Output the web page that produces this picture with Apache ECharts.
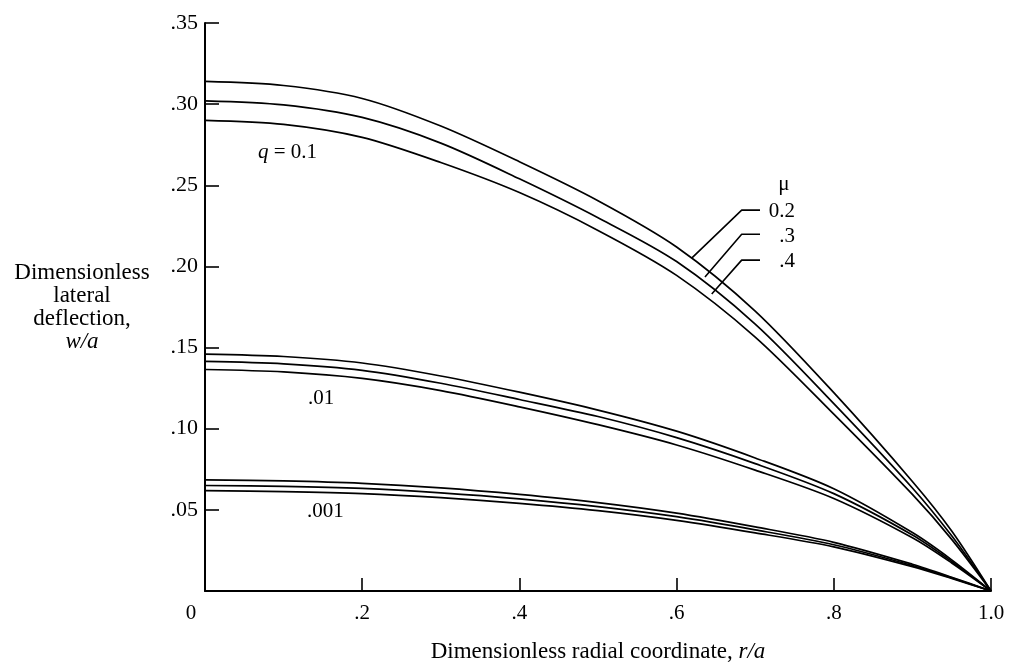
<!DOCTYPE html>
<html>
<head>
<meta charset="utf-8">
<script src="https://cdn.jsdelivr.net/npm/echarts@6/dist/echarts.min.js"></script>
<style>
html,body{margin:0;padding:0;background:#fff;}
#c{width:1013px;height:669px;}
</style>
</head>
<body>
<div id="c"></div>
<script>
// radial coordinate r/a
const xs = [0, 0.1, 0.2, 0.3, 0.4, 0.5, 0.6, 0.7, 0.8, 0.9, 0.95, 1.0];
// q = 0.1
const q1_mu02 = [0.3140, 0.3115, 0.3035, 0.2865, 0.2645, 0.2405, 0.2120, 0.1725, 0.1222, 0.0675, 0.0370, 0];
const q1_mu03 = [0.3020, 0.2995, 0.2918, 0.2760, 0.2540, 0.2300, 0.2030, 0.1645, 0.1155, 0.0635, 0.0340, 0];
const q1_mu04 = [0.2900, 0.2875, 0.2795, 0.2640, 0.2455, 0.2222, 0.1945, 0.1565, 0.1090, 0.0595, 0.0318, 0];
// q = 0.01
const q2_mu02 = [0.1460, 0.1445, 0.1405, 0.1325, 0.1225, 0.1115, 0.0985, 0.0820, 0.0630, 0.0360, 0.0192, 0];
const q2_mu03 = [0.1415, 0.1400, 0.1360, 0.1280, 0.1180, 0.1075, 0.0945, 0.0785, 0.0600, 0.0345, 0.0182, 0];
const q2_mu04 = [0.1365, 0.1350, 0.1310, 0.1235, 0.1135, 0.1025, 0.0900, 0.0745, 0.0570, 0.0328, 0.0173, 0];
// q = 0.001
const q3_mu02 = [0.0685, 0.0678, 0.0663, 0.0635, 0.0595, 0.0545, 0.0480, 0.0395, 0.0300, 0.0165, 0.0085, 0];
const q3_mu03 = [0.0650, 0.0645, 0.0632, 0.0605, 0.0568, 0.0520, 0.0458, 0.0377, 0.0285, 0.0157, 0.0081, 0];
const q3_mu04 = [0.0618, 0.0612, 0.0600, 0.0575, 0.0540, 0.0495, 0.0435, 0.0358, 0.0272, 0.0150, 0.0077, 0];

// leader lines for the mu callout (data coordinates)
const leader02 = [[0.6192, 0.2051], [0.6828, 0.2347], [0.7061, 0.2347]];
const leader03 = [[0.6361, 0.1935], [0.6828, 0.2198], [0.7061, 0.2198]];
const leader04 = [[0.6447, 0.1830], [0.6828, 0.2039], [0.7061, 0.2039]];

// annotation texts and anchors (data coordinates)
const leftTexts = ['{i|q} = 0.1', '.01', '.001'];
const leftAnchors = [[0.0674, 0.2705], [0.131, 0.1189], [0.1298, 0.0487]];
const rightTexts = ['0.2', '.3', '.4'];
const rightAnchors = [[0.7506, 0.2341], [0.7506, 0.2187], [0.7506, 0.2033]];
const muText = 'μ';
const muAnchor = [0.7366, 0.2505];

const xTicks = {0: '0', 0.2: '.2', 0.4: '.4', 0.6: '.6', 0.8: '.8', 1: '1.0'};

const FONT = '"Liberation Serif", "Times New Roman", serif';
const zip = (a) => xs.map((x, i) => [x, a[i]]);

const curveSeries = [q1_mu02, q1_mu03, q1_mu04, q2_mu02, q2_mu03, q2_mu04, q3_mu02, q3_mu03, q3_mu04].map(arr => ({
  type: 'line', data: zip(arr), showSymbol: false, symbol: 'none', smooth: 0.3,
  lineStyle: {color: '#000', width: 1.7}, silent: true, z: 3
}));
const leaderSeries = [leader02, leader03, leader04].map(d => ({
  type: 'line', data: d, showSymbol: false, symbol: 'none', smooth: false,
  lineStyle: {color: '#000', width: 1.6}, silent: true, z: 3
}));
const richI = {i: {fontFamily: FONT, fontStyle: 'italic', fontSize: 21, color: '#000'}};
const baseText = {type: 'scatter', symbolSize: 0, silent: true, itemStyle: {opacity: 1, color: '#000'}, z: 4};
const textSeries = [
  Object.assign({}, baseText, {
   data: leftAnchors.map((p, i) => ({value: p, label: {formatter: leftTexts[i]}})),
   label: {show: true, position: 'right', distance: 0, fontFamily: FONT, fontSize: 21, color: '#000', opacity: 1, rich: richI}}),
  Object.assign({}, baseText, {
   data: rightAnchors.map((p, i) => ({value: p, label: {formatter: rightTexts[i]}})),
   label: {show: true, position: 'left', distance: 0, fontFamily: FONT, fontSize: 21, color: '#000', opacity: 1}}),
  Object.assign({}, baseText, {
   data: [{value: muAnchor, label: {formatter: muText}}],
   label: {show: true, position: 'inside', fontFamily: FONT, fontSize: 21, color: '#000', opacity: 1, textBorderWidth: 0}})
];

const chart = echarts.init(document.getElementById('c'), null, {renderer: 'canvas'});
chart.setOption({
  animation: false,
  backgroundColor: '#fff',
  grid: {left: 205, right: 22, top: 23, bottom: 78, containLabel: false},
  xAxis: {
    type: 'value', min: 0, max: 1, interval: 0.2,
    name: 'Dimensionless radial coordinate, {i|r/a}',
    nameLocation: 'middle', nameGap: 61,
    nameTextStyle: {fontFamily: FONT, fontSize: 23, color: '#000', verticalAlign: 'middle',
      rich: {i: {fontFamily: FONT, fontStyle: 'italic', fontSize: 23, color: '#000'}}},
    axisLine: {lineStyle: {color: '#000', width: 2}},
    axisTick: {inside: true, length: 13, lineStyle: {color: '#000', width: 1.6}},
    splitLine: {show: false},
    axisLabel: {
      margin: 12, fontFamily: FONT, fontSize: 21, color: '#000',
      formatter: v => {
        const k = Math.round(v * 10) / 10;
        return k === 0 ? '{z|0}' : xTicks[k];
      },
      rich: {z: {fontFamily: FONT, fontSize: 21, color: '#000', padding: [0, 28, 0, 0]}}
    }
  },
  yAxis: {
    type: 'value', min: 0, max: 0.35, interval: 0.05,
    name: 'Dimensionless\nlateral\ndeflection,\n{i|w/a}',
    nameLocation: 'middle', nameRotate: 0, nameGap: 123,
    nameTextStyle: {fontFamily: FONT, fontSize: 23, color: '#000', align: 'center', verticalAlign: 'middle', lineHeight: 23,
      rich: {i: {fontFamily: FONT, fontStyle: 'italic', fontSize: 23, color: '#000', lineHeight: 23}}},
    axisLine: {show: true, lineStyle: {color: '#000', width: 2}},
    axisTick: {show: true, inside: true, length: 14, lineStyle: {color: '#000', width: 1.6}},
    splitLine: {show: false},
    axisLabel: {
      margin: 7, fontFamily: FONT, fontSize: 22, color: '#000',
      formatter: v => v === 0 ? '' : v.toFixed(2).replace(/^0/, '')
    }
  },
  series: [...curveSeries, ...leaderSeries, ...textSeries]
});
</script>
</body>
</html>
